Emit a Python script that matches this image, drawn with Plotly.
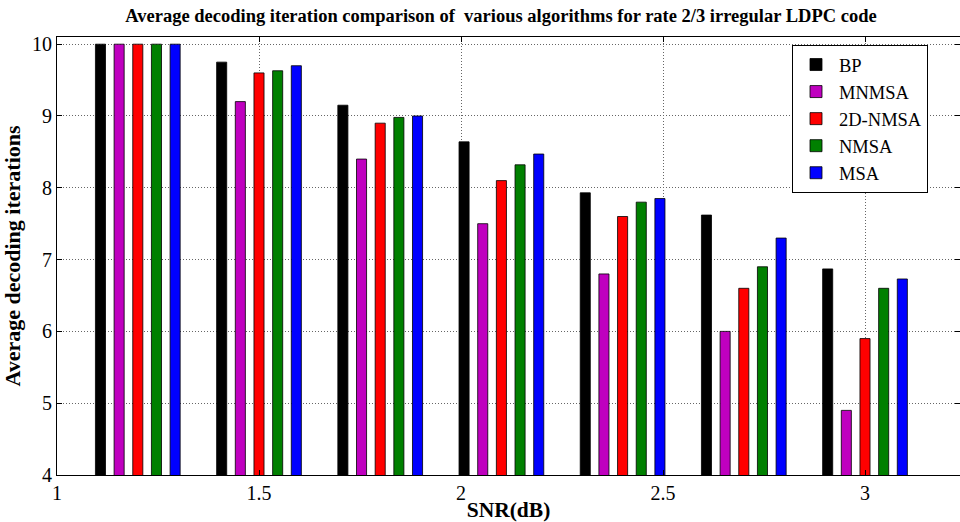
import plotly.graph_objects as go

snr = [1.2, 1.5, 1.8, 2.1, 2.4, 2.7, 3.0]
bp = [10.0, 9.75, 9.15, 8.64, 7.93, 7.62, 6.87]
mnmsa = [10.0, 9.2, 8.4, 7.5, 6.8, 6.0, 4.9]
nmsa2d = [10.0, 9.6, 8.9, 8.1, 7.6, 6.6, 5.9]
nmsa = [10.0, 9.63, 8.98, 8.32, 7.8, 6.9, 6.6]
msa = [10.0, 9.7, 9.0, 8.47, 7.85, 7.3, 6.73]

series = [
    ("BP", bp, "#000000"),
    ("MNMSA", mnmsa, "#bf00bf"),
    ("2D-NMSA", nmsa2d, "#ff0000"),
    ("NMSA", nmsa, "#008000"),
    ("MSA", msa, "#0000ff"),
]

x_ticks = [1, 1.5, 2, 2.5, 3]
x_ticklabels = ["1", "1.5", "2", "2.5", "3"]
y_ticks = [4, 5, 6, 7, 8, 9, 10]

fig = go.Figure()
for name, vals, col in series:
    fig.add_trace(go.Bar(
        x=snr, y=vals, name=name,
        marker=dict(color=col, line=dict(color="#000000", width=0.8)),
    ))

serif = "'Times New Roman', 'Liberation Serif', serif"

fig.update_layout(
    width=960, height=522,
    margin=dict(l=57, r=0, t=37, b=47),
    paper_bgcolor="white", plot_bgcolor="white",
    barmode="group", bargap=0.23, bargroupgap=0.46,
    font=dict(family=serif, color="black", size=19),
    title=dict(
        text="<b>Average decoding iteration comparison of  various algorithms for rate 2/3 irregular LDPC code</b>",
        x=501 / 960, xanchor="center", y=1 - 16 / 522, yanchor="middle",
        font=dict(family=serif, size=18.5, color="black"),
    ),
    legend=dict(
        x=(792 - 57) / 903, y=(475 - 45) / 438, xanchor="left", yanchor="top",
        bgcolor="white", bordercolor="black", borderwidth=1,
        font=dict(family=serif, size=18.5, color="black"),
        itemwidth=36, tracegroupgap=0,
    ),
    showlegend=True,
)

fig.update_xaxes(
    range=[1, 1 + 903 / 404], tickvals=x_ticks, ticktext=x_ticklabels,
    showline=True, linecolor="black", linewidth=1, mirror="allticks",
    ticks="inside", ticklen=5, tickcolor="black",
    showgrid=True, gridcolor="#666666", griddash="1px,2px", gridwidth=1,
    zeroline=False, tickfont=dict(family=serif, size=20, color="black"),
    title=dict(text="<b>SNR(dB)</b>", font=dict(family=serif, size=21.5, color="black"), standoff=0),
)
fig.update_yaxes(
    range=[4, 10.1], tickvals=y_ticks,
    showline=True, linecolor="black", linewidth=1, mirror="allticks",
    ticks="inside", ticklen=5, tickcolor="black",
    showgrid=True, gridcolor="#666666", griddash="1px,2px", gridwidth=1,
    zeroline=False, tickfont=dict(family=serif, size=20, color="black"),
    title=dict(text="<b>Average decoding iterations</b>", font=dict(family=serif, size=22, color="black"), standoff=6),
)

fig.write_html("out.html")
